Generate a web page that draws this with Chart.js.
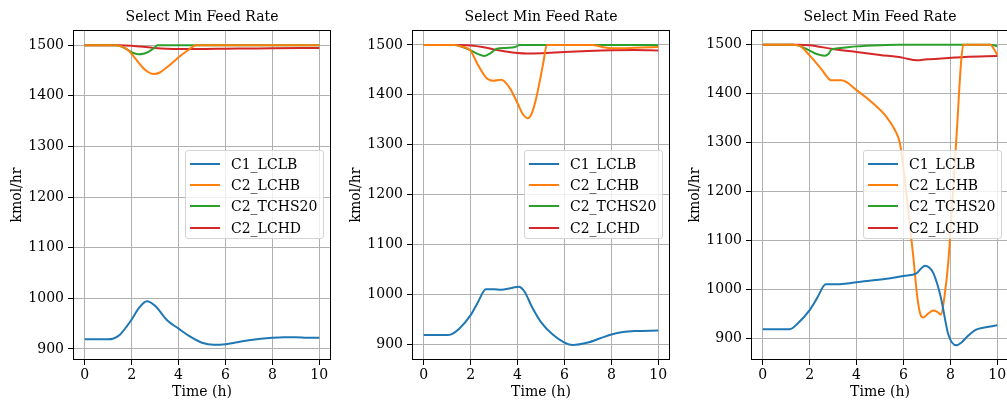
<!DOCTYPE html>
<html>
<head>
<meta charset="utf-8">
<script src="https://cdn.jsdelivr.net/npm/chart.js@4.4.1/dist/chart.umd.min.js"></script>
<style>
html, body { margin: 0; padding: 0; background: #fff; overflow: hidden; width: 1007px; height: 403px; }
.panel { position: absolute; top: 0; }
.legend {
    position: absolute; box-sizing: border-box; width: 139px; height: 89px; padding-top: 2px;
    border: 1px solid #d4d4d4; border-radius: 3px; background: rgba(255, 255, 255, 0.8);
    font-family: 'DejaVu Serif'; font-size: 14px; color: #000; z-index: 2;
}
.legend .row { height: 21.3px; display: flex; align-items: center; white-space: nowrap; }
.legend .swatch { width: 30px; height: 2px; margin-left: 4px; margin-right: 11px; flex: none; }
</style>
</head>
<body>
<canvas id="panel1" class="panel" width="339" height="403" style="left:0px"></canvas>
<canvas id="panel2" class="panel" width="339" height="403" style="left:339px"></canvas>
<canvas id="panel3" class="panel" width="339" height="403" style="left:678px"></canvas>
<script>
// Shared axis / legend info
const xTicks = [0, 2, 4, 6, 8, 10];
const yTicks = [900, 1000, 1100, 1200, 1300, 1400, 1500];
const seriesNames = ['C1_LCLB', 'C2_LCHB', 'C2_TCHS20', 'C2_LCHD'];
const seriesColors = ['#1f77b4', '#ff7f0e', '#2ca02c', '#d62728'];

// Panel 1 (times in h, values in kmol/hr)
const p1LclbT = [0, 1, 1.2, 1.5, 1.8, 2, 2.3, 2.65, 3, 3.5, 4, 4.5, 5, 5.5, 6, 6.5, 7, 7.5, 8, 8.5, 9, 9.5, 10];
const p1LclbV = [919, 919, 920, 928, 945, 958, 980, 994, 985, 957, 940, 924, 912, 908, 909, 913, 917, 920, 922, 923, 923, 922, 922];
const p1LchbT = [0, 1.3, 1.6, 1.9, 2.1, 2.45, 2.7, 2.95, 3.2, 3.6, 4, 4.4, 4.75, 10];
const p1LchbV = [1500, 1500, 1497, 1488, 1477, 1457, 1447, 1443, 1446, 1460, 1476, 1490, 1500, 1500];
const p1TchsT = [0, 1.3, 1.6, 1.9, 2.1, 2.3, 2.5, 2.75, 2.95, 3.1, 10];
const p1TchsV = [1500, 1500, 1497, 1489, 1484, 1482, 1483, 1488, 1494, 1500, 1500];
const p1LchdT = [0, 1.5, 2, 2.5, 3, 3.5, 4, 5, 6, 7, 8, 10];
const p1LchdV = [1500, 1500, 1499, 1497, 1494.5, 1493, 1492.5, 1492.5, 1493, 1493.5, 1494, 1494.5];

// Panel 2
const p2LclbT = [0, 1, 1.2, 1.5, 2, 2.3, 2.65, 3, 3.3, 3.7, 4.05, 4.3, 4.6, 5, 5.5, 6, 6.35, 7, 7.5, 8, 8.5, 9, 10];
const p2LclbV = [918, 918, 920, 930, 958, 983, 1010, 1010, 1009, 1012, 1015, 1005, 976, 944, 919, 903, 898, 903, 911, 919, 924, 926, 927];
const p2LchbT = [0, 1.3, 1.6, 2, 2.3, 2.65, 2.95, 3.3, 3.65, 4, 4.2, 4.43, 4.6, 4.78, 5, 5.1, 5.25, 7.2, 7.6, 8, 8.5, 9, 10];
const p2LchbV = [1500, 1500, 1497, 1488, 1461, 1435, 1428, 1430, 1415, 1383, 1363, 1353, 1362, 1390, 1440, 1465, 1500, 1500, 1496, 1493.5, 1493.5, 1494.5, 1496];
const p2TchsT = [0, 1.3, 1.6, 2, 2.3, 2.58, 2.8, 3.1, 3.5, 3.9, 4.1, 9.5, 10];
const p2TchsV = [1500, 1500, 1497, 1489, 1482, 1478, 1482, 1492, 1494, 1496, 1500, 1500, 1499.5];
const p2LchdT = [0, 1.5, 2, 2.5, 3, 3.5, 4, 4.4, 5, 6, 7, 8, 9, 10];
const p2LchdV = [1500, 1500, 1499, 1496, 1491, 1487, 1484, 1483, 1483.5, 1486, 1488, 1489.5, 1490, 1489];

// Panel 3
const p3LclbT = [0, 1.15, 1.5, 2, 2.3, 2.69, 3.3, 4, 5.28, 6, 6.55, 6.75, 6.92, 7.1, 7.28, 7.59, 7.92, 8.25, 8.5, 8.7, 9.1, 9.5, 10];
const p3LclbV = [918, 918, 930, 957, 980, 1010, 1010, 1014, 1021, 1027, 1032, 1042, 1048, 1044, 1032, 984, 906, 885, 892, 902, 917, 922, 926];
const p3LchbT = [0, 1.3, 1.6, 2, 2.5, 2.93, 3.36, 4, 4.7, 5.28, 5.64, 5.85, 6.14, 6.42, 6.6, 6.75, 6.85, 7.05, 7.28, 7.45, 7.6, 7.75, 7.92, 8.1, 8.28, 8.45, 8.55, 9.7, 9.85, 10];
const p3LchbV = [1500, 1500, 1497, 1478, 1450, 1427, 1427, 1407, 1380, 1352, 1325, 1298, 1189, 1066, 980, 945, 942, 950, 956, 953, 948, 985, 1060, 1190, 1326, 1460, 1500, 1500, 1492, 1479];
const p3TchsT = [0, 1.3, 1.6, 2, 2.3, 2.65, 2.8, 2.93, 3.3, 4, 5, 5.8, 9.7, 10];
const p3TchsV = [1500, 1500, 1497, 1488, 1481, 1477.5, 1481, 1490, 1493, 1496.5, 1499, 1500, 1500, 1497];
const p3LchdT = [0, 1.5, 2, 3, 4, 5, 6, 6.57, 7, 7.6, 8.6, 10];
const p3LchdV = [1500, 1500, 1499, 1491, 1485, 1479, 1473, 1468, 1470, 1471.5, 1475, 1477];

const font = { family: 'DejaVu Serif', size: 14 };

function pairs(ts, vs) {
    return ts.map((t, i) => ({ x: t, y: vs[i] }));
}

// matplotlib style box round the plot area
const framePlugin = {
    id: 'frame',
    afterDraw(chart) {
        const { ctx, chartArea: a } = chart;
        ctx.save();
        ctx.strokeStyle = '#000';
        ctx.lineWidth = 1;
        const l = Math.round(a.left) + 0.5, t = Math.round(a.top) + 0.5;
        const r = Math.round(a.right) - 0.5, b = Math.round(a.bottom) - 0.5;
        ctx.strokeRect(l, t, r - l, b - t);
        ctx.restore();
    }
};

function buildLegend(chart, canvasLeft) {
    const box = document.createElement('div');
    box.className = 'legend';
    box.style.left = (canvasLeft + chart.chartArea.right - 7 - 139) + 'px';
    box.style.top = '150px';
    chart.data.datasets.forEach(ds => {
        const row = document.createElement('div');
        row.className = 'row';
        const sw = document.createElement('span');
        sw.className = 'swatch';
        sw.style.background = ds.borderColor;
        const label = document.createElement('span');
        label.textContent = ds.label;
        row.appendChild(sw);
        row.appendChild(label);
        box.appendChild(row);
    });
    document.body.appendChild(box);
}

function makeChart(id, canvasLeft, series, yMin, yMax) {
    const ctx = document.getElementById(id).getContext('2d');
    const chart = new Chart(ctx, {
        type: 'line',
        data: {
            datasets: series.map((s, i) => ({
                label: seriesNames[i],
                data: pairs(s[0], s[1]),
                borderColor: seriesColors[i],
                backgroundColor: seriesColors[i],
                borderWidth: 2,
                pointRadius: 0,
                cubicInterpolationMode: 'monotone',
                fill: false
            }))
        },
        options: {
            responsive: false,
            animation: false,
            layout: { padding: { left: 0, right: 8, top: 0, bottom: 0 } },
            plugins: {
                legend: { display: false },
                tooltip: { enabled: false },
                title: {
                    display: true,
                    fullSize: false, // centre over the plot area, like matplotlib
                    text: 'Select Min Feed Rate',
                    color: '#000',
                    font: { family: 'DejaVu Serif', size: 14, weight: 'normal' },
                    padding: { top: 9.2, bottom: 4 }
                }
            },
            scales: {
                x: {
                    type: 'linear',
                    min: -0.5,
                    max: 10.5,
                    afterBuildTicks: sc => { sc.ticks = xTicks.map(v => ({ value: v })); },
                    afterFit: sc => { sc.height = 43; },
                    ticks: { color: '#000', font, padding: 2, maxRotation: 0, callback: v => String(v) },
                    grid: { color: '#b0b0b0', lineWidth: 1, tickLength: 5, tickColor: '#000' },
                    border: { display: false },
                    title: { display: true, text: 'Time (h)', color: '#000', font, padding: { top: 0, bottom: 2.6 } }
                },
                y: {
                    type: 'linear',
                    min: yMin,
                    max: yMax,
                    afterBuildTicks: sc => { sc.ticks = yTicks.map(v => ({ value: v })); },
                    afterFit: sc => { sc.width = 73; },
                    ticks: { color: '#000', font, padding: 4, callback: v => String(v) },
                    grid: { color: '#b0b0b0', lineWidth: 1, tickLength: 5, tickColor: '#000' },
                    border: { display: false },
                    title: { display: true, text: 'kmol/hr', color: '#000', font, padding: { top: 8.6, bottom: 0 } }
                }
            }
        },
        plugins: [framePlugin]
    });
    buildLegend(chart, canvasLeft);
    return chart;
}

makeChart('panel1', 0, [[p1LclbT, p1LclbV], [p1LchbT, p1LchbV], [p1TchsT, p1TchsV], [p1LchdT, p1LchdV]], 878, 1530);
makeChart('panel2', 339, [[p2LclbT, p2LclbV], [p2LchbT, p2LchbV], [p2TchsT, p2TchsV], [p2LchdT, p2LchdV]], 868, 1530);
makeChart('panel3', 678, [[p3LclbT, p3LclbV], [p3LchbT, p3LchbV], [p3TchsT, p3TchsV], [p3LchdT, p3LchdV]], 855, 1530);
</script>
</body>
</html>
